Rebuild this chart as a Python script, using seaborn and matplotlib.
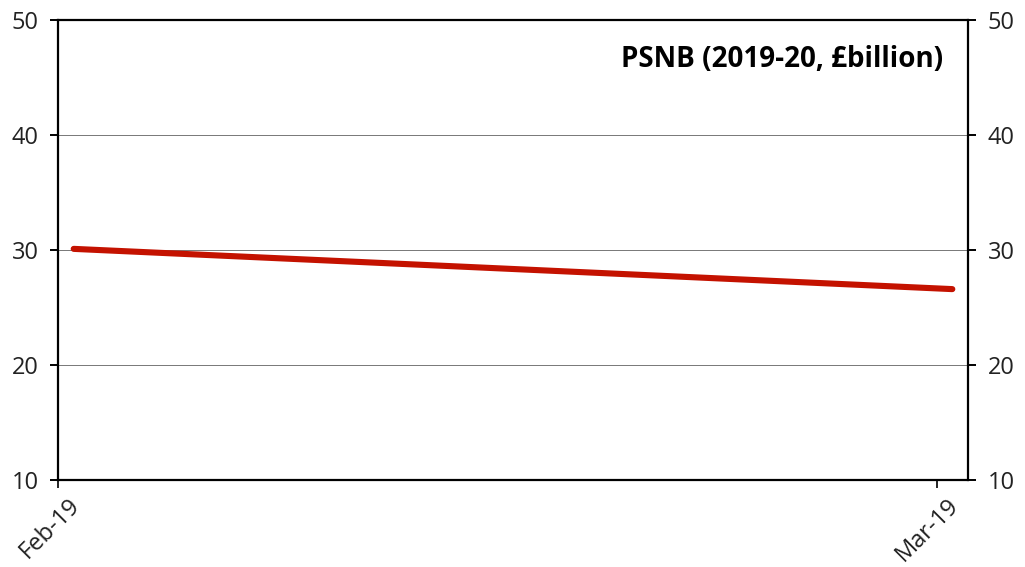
import numpy as np
import pandas as pd
import matplotlib.pyplot as plt
import matplotlib.transforms as mtransforms
import seaborn as sns

# data
dates = ['2019-02-01 12:00', '2019-03-01 12:00']
psnb = [30.1, 26.6]
tick_dates = ['2019-02-01', '2019-03-01']
tick_labels = ['Feb-19', 'Mar-19']
title = 'PSNB (2019-20, £billion)'

df = pd.DataFrame({'date': pd.to_datetime(dates), 'psnb': psnb})

sns.set_theme(style='white')
plt.rcParams['font.family'] = ['Open Sans', 'DejaVu Sans']

fig = plt.figure(figsize=(10.25, 5.67), dpi=100)
ax = fig.add_axes([0.0566, 0.1534, 0.8878, 0.8113])

sns.lineplot(data=df, x='date', y='psnb', ax=ax, color='#C41200', linewidth=4.4,
             solid_capstyle='round')

ax.set_xlim(pd.Timestamp('2019-02-01'), pd.Timestamp('2019-03-02'))
ax.set_ylim(10, 50)
ax.set_yticks([10, 20, 30, 40, 50])
ax.set_xticks(pd.to_datetime(tick_dates))
ax.set_xticklabels(tick_labels, rotation=45, ha='right', rotation_mode='anchor')
ax.set_xlabel('')
ax.set_ylabel('')

ax.grid(axis='y', color='#777777', linewidth=0.7)
ax.set_axisbelow(True)
for s in ax.spines.values():
    s.set_color('black')
    s.set_linewidth(1.6)

ax.tick_params(axis='y', which='both', left=True, right=True, labelleft=True, labelright=True,
               direction='out', length=6, width=1.4, color='black', labelsize=17, pad=8,
               labelcolor='#222222')
ax.tick_params(axis='x', bottom=True, direction='out', length=6, width=1.2, color='black',
               labelsize=17, pad=4, labelcolor='#222222')

# shift rotated date labels a little to the right, like the original
shift = mtransforms.ScaledTranslation(0.1, 0, fig.dpi_scale_trans)
for tick in ax.xaxis.get_major_ticks():
    tick.label1.set_transform(tick.label1.get_transform() + shift)

ax.text(0.9725, 0.915, title, transform=ax.transAxes, ha='right', va='center',
        fontsize=20, fontweight='bold', color='black')

fig.savefig('out.png', dpi=100)
